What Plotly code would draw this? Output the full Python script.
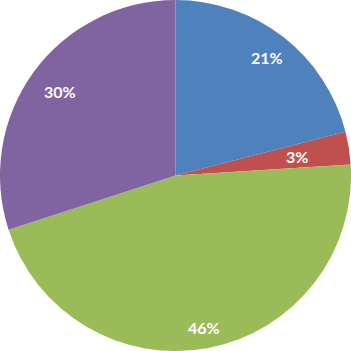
import math
import plotly.graph_objects as go

categories = ["A", "B", "C", "D"]
values = [21, 3, 46, 30]
colors = ["#4F81BD", "#C0504D", "#9BBB59", "#8064A2"]
# radial placement of each data label (fraction of pie radius)
label_radius = [0.85, 0.70, 0.88, 0.81]

fig = go.Figure(go.Pie(
    labels=categories,
    values=values,
    sort=False,
    direction="clockwise",
    rotation=0,
    marker=dict(colors=colors, line=dict(width=0)),
    textinfo="none",
    showlegend=False,
    hoverinfo="skip",
    domain=dict(x=[0, 1], y=[0, 1]),
))

total = sum(values)
cum = 0
for v, f in zip(values, label_radius):
    mid = (cum + v / 2) / total * 2 * math.pi
    cum += v
    fig.add_annotation(
        x=0.5 + 0.5 * f * math.sin(mid),
        y=0.5 + 0.5 * f * math.cos(mid),
        xref="paper", yref="paper",
        xanchor="center", yanchor="middle",
        text=f"{round(v / total * 100)}%",
        showarrow=False,
        font=dict(family="Lato", size=16, color="white", weight="bold"),
    )

fig.update_layout(
    width=351, height=351,
    margin=dict(l=0, r=0, t=0, b=0),
    paper_bgcolor="white",
)
fig.write_html("out.html", config={"displayModeBar": False},
               post_script="document.body.style.margin='0';")
